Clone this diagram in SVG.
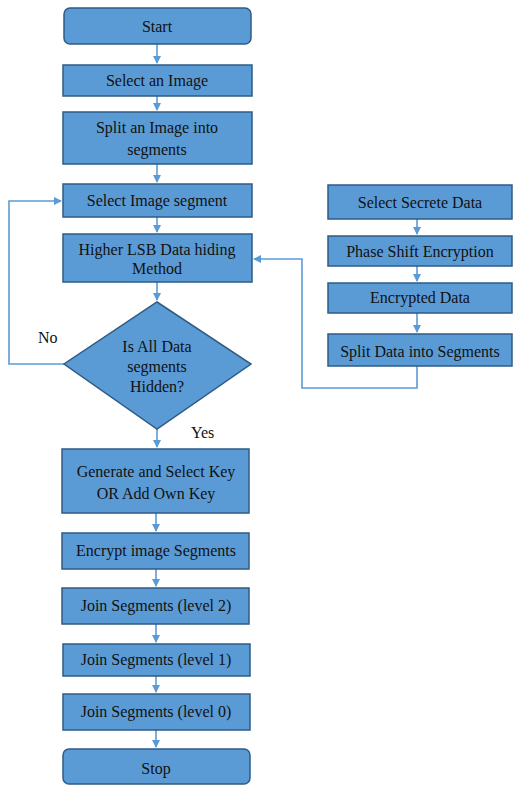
<svg xmlns="http://www.w3.org/2000/svg" width="513" height="785" viewBox="0 0 513 785">
<style>
.box{fill:#5B9BD5;stroke:#2E5B86;stroke-width:1.5}
.c{fill:none;stroke:#5B9BD5;stroke-width:1.6}
.t{font-family:'Liberation Serif','Times New Roman',serif;font-size:16px;fill:#111;text-anchor:middle}
.lbl{font-family:'Liberation Serif','Times New Roman',serif;font-size:16px;fill:#111}
</style>
<defs>
<marker id="ah" markerWidth="8" markerHeight="8" refX="7" refY="4" orient="auto" markerUnits="userSpaceOnUse">
<path d="M0,0 L8,4 L0,8 Z" fill="#5B9BD5"/>
</marker>
</defs>
<rect width="513" height="785" fill="#fff"/>
<g id="connectors">
<path class="c" d="M157,44 V63" marker-end="url(#ah)"/>
<path class="c" d="M157,96 V110" marker-end="url(#ah)"/>
<path class="c" d="M157,164 V182" marker-end="url(#ah)"/>
<path class="c" d="M157,217 V232" marker-end="url(#ah)"/>
<path class="c" d="M157,282 V300" marker-end="url(#ah)"/>
<path class="c" d="M64,364 H9 V201 H61" marker-end="url(#ah)"/>
<path class="c" d="M157,429 V447" marker-end="url(#ah)"/>
<path class="c" d="M156,513 V531" marker-end="url(#ah)"/>
<path class="c" d="M156,569 V586" marker-end="url(#ah)"/>
<path class="c" d="M156,624 V642" marker-end="url(#ah)"/>
<path class="c" d="M156,676 V692" marker-end="url(#ah)"/>
<path class="c" d="M156,730 V747" marker-end="url(#ah)"/>
<path class="c" d="M417,219 V234" marker-end="url(#ah)"/>
<path class="c" d="M417,266 V281" marker-end="url(#ah)"/>
<path class="c" d="M417,313 V332" marker-end="url(#ah)"/>
<path class="c" d="M417,366 V388 H302 V259 H254" marker-end="url(#ah)"/>
<text class="lbl" x="38" y="343">No</text>
<text class="lbl" x="191" y="438">Yes</text>
</g>
<g id="start"><rect class="box" x="64" y="8" width="187" height="36" rx="6"/><text class="t" x="157" y="31.5">Start</text></g>
<g id="select-image"><rect class="box" x="63" y="65" width="189" height="31"/><text class="t" x="157" y="86">Select an Image</text></g>
<g id="split-image"><rect class="box" x="63" y="112" width="189" height="52"/><text class="t" x="157" y="133">Split an Image into</text><text class="t" x="157" y="155">segments</text></g>
<g id="select-segment"><rect class="box" x="63" y="184" width="189" height="33"/><text class="t" x="157" y="206">Select Image segment</text></g>
<g id="lsb"><rect class="box" x="63" y="234" width="189" height="48"/><text class="t" x="157" y="255">Higher LSB Data hiding</text><text class="t" x="157" y="274">Method</text></g>
<g id="decision"><polygon class="box" points="157,302 251,364 157,429 64,364"/><text class="t" x="157" y="352">Is All Data</text><text class="t" x="157" y="372">segments</text><text class="t" x="157" y="392">Hidden?</text></g>
<g id="generate-key"><rect class="box" x="62" y="449" width="187" height="64"/><text class="t" x="156" y="477">Generate and Select Key</text><text class="t" x="156" y="499">OR Add Own Key</text></g>
<g id="encrypt-segments"><rect class="box" x="62" y="533" width="187" height="36"/><text class="t" x="156" y="556">Encrypt image Segments</text></g>
<g id="join2"><rect class="box" x="62" y="588" width="187" height="36"/><text class="t" x="156" y="611">Join Segments (level 2)</text></g>
<g id="join1"><rect class="box" x="63" y="644" width="187" height="32"/><text class="t" x="156" y="665">Join Segments (level 1)</text></g>
<g id="join0"><rect class="box" x="63" y="694" width="187" height="36"/><text class="t" x="156" y="717">Join Segments (level 0)</text></g>
<g id="stop"><rect class="box" x="63" y="749" width="187" height="35" rx="6"/><text class="t" x="156" y="774">Stop</text></g>
<g id="secret-data"><rect class="box" x="328" y="185" width="184" height="34"/><text class="t" x="420" y="208">Select Secrete Data</text></g>
<g id="phase-shift"><rect class="box" x="328" y="236" width="184" height="30"/><text class="t" x="420" y="257">Phase Shift Encryption</text></g>
<g id="encrypted-data"><rect class="box" x="328" y="283" width="184" height="30"/><text class="t" x="420" y="303">Encrypted Data</text></g>
<g id="split-data"><rect class="box" x="328" y="334" width="184" height="32"/><text class="t" x="420" y="357">Split Data into Segments</text></g>
</svg>
